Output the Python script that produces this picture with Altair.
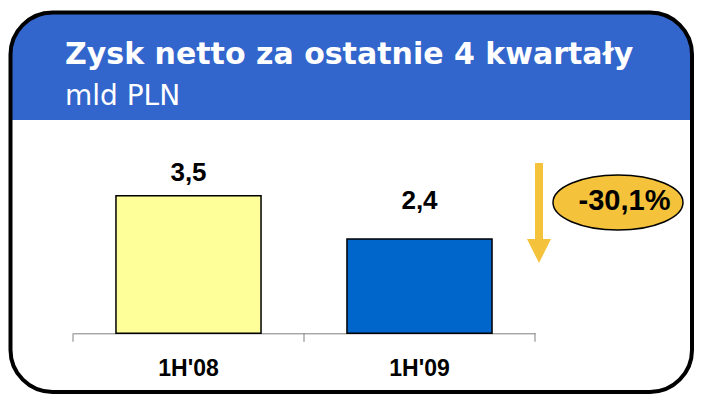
import altair as alt
import pandas as pd

# ---- data ----
periods = ["1H'08", "1H'09"]
values = [3.5, 2.4]
value_labels = ["3,5", "2,4"]
bar_colors = ["#FFFF99", "#0066CC"]
change_label = "-30,1%"
title_text = "Zysk netto za ostatnie 4 kwartały"
subtitle_text = "mld PLN"

df = pd.DataFrame({"period": periods, "value": values, "label": value_labels})
one = pd.DataFrame({"a": [0]})

W, H = 686, 386
BASE = 325.3
ARROW = "#F5C23C"
RIGHT, BOTTOM = 684, 384
X0, X1 = 65, 527

x_scale = alt.Scale(domain=periods, range=[X0, X1], paddingInner=0.372, paddingOuter=0.186)
y_scale = alt.Scale(domain=[0, 5], range=[BASE, BASE - 39.3 * 5])

x_axis = alt.Axis(offset=-(H - BASE), ticks=False, domainColor="#808080",
                  domainWidth=1,
                  labelFont="Liberation Sans", labelFontSize=23,
                  labelFontWeight="bold", labelColor="black", labelPadding=24,
                  labelAngle=0, title=None, grid=False)
x_enc = alt.X("period:N", scale=x_scale, sort=periods, axis=x_axis)
y_enc = alt.Y("value:Q", scale=y_scale, axis=None)

header = alt.Chart(one).mark_rect(
    color="#3366CC", cornerRadiusTopLeft=42, cornerRadiusTopRight=42
).encode(x=alt.value(2.5), x2=alt.value(RIGHT), y=alt.value(4.5), y2=alt.value(112))

title = alt.Chart(one).mark_text(
    text=title_text, font="DejaVu Sans", fontSize=30, fontWeight="bold",
    color="white", align="left", baseline="alphabetic"
).encode(x=alt.value(57), y=alt.value(55.5))

subtitle = alt.Chart(one).mark_text(
    text=subtitle_text, font="DejaVu Sans", fontSize=28, color="white",
    align="left", baseline="alphabetic"
).encode(x=alt.value(57), y=alt.value(97))

bars = alt.Chart(df).mark_bar(stroke="black", strokeWidth=1.5).encode(
    x=x_enc, y=y_enc,
    color=alt.Color("period:N", scale=alt.Scale(domain=periods, range=bar_colors), legend=None),
)

# category-boundary ticks (Excel style)
step = (X1 - X0) / len(periods)
ticks = [
    alt.Chart(one).mark_rule(color="#808080", strokeWidth=1).encode(
        x=alt.value(X0 + i * step), y=alt.value(BASE), y2=alt.value(BASE + 8.5))
    for i in range(len(periods) + 1)
]

lab1 = alt.Chart(df).transform_filter(alt.datum.period == periods[0]).mark_text(
    font="Liberation Sans", fontSize=26, fontWeight="bold", color="black",
    baseline="alphabetic", dy=-14.5
).encode(x=x_enc, y=y_enc, text="label:N")

lab2 = alt.Chart(df).transform_filter(alt.datum.period == periods[1]).mark_text(
    font="Liberation Sans", fontSize=26, fontWeight="bold", color="black",
    baseline="alphabetic", dy=-30
).encode(x=x_enc, y=y_enc, text="label:N")

shaft = alt.Chart(one).mark_rect(color=ARROW).encode(
    x=alt.value(527), x2=alt.value(535), y=alt.value(155), y2=alt.value(232))

head = alt.Chart(one).mark_point(
    shape="M-1,-1L1,-1L0,1Z", filled=True, color=ARROW, opacity=1, size=576
).encode(x=alt.value(531), y=alt.value(243))

ellipse = alt.Chart(one).mark_point(
    shape="M-1,0A1,0.423,0,1,0,1,0A1,0.423,0,1,0,-1,0Z", filled=True,
    fill=ARROW, stroke="black", strokeWidth=1.5, opacity=1, size=16900
).encode(x=alt.value(610), y=alt.value(194.5))

pct = alt.Chart(one).mark_text(
    text=change_label, font="Liberation Sans", fontSize=29, fontWeight="bold",
    color="black", align="center", baseline="middle"
).encode(x=alt.value(616.5), y=alt.value(193))

outline = alt.Chart(one).mark_rect(
    fill="white", fillOpacity=0, stroke="black", strokeWidth=4, cornerRadius=42
).encode(x=alt.value(2.5), x2=alt.value(RIGHT), y=alt.value(4.5), y2=alt.value(BOTTOM))

chart = alt.layer(
    header, title, subtitle, bars, *ticks, lab1, lab2, shaft, head, ellipse, pct, outline
).properties(
    width=W, height=H, padding=0, autosize="none", background="white"
).configure_view(stroke=None)

chart.save("out.html", embed_options={"renderer": "svg", "actions": False})
